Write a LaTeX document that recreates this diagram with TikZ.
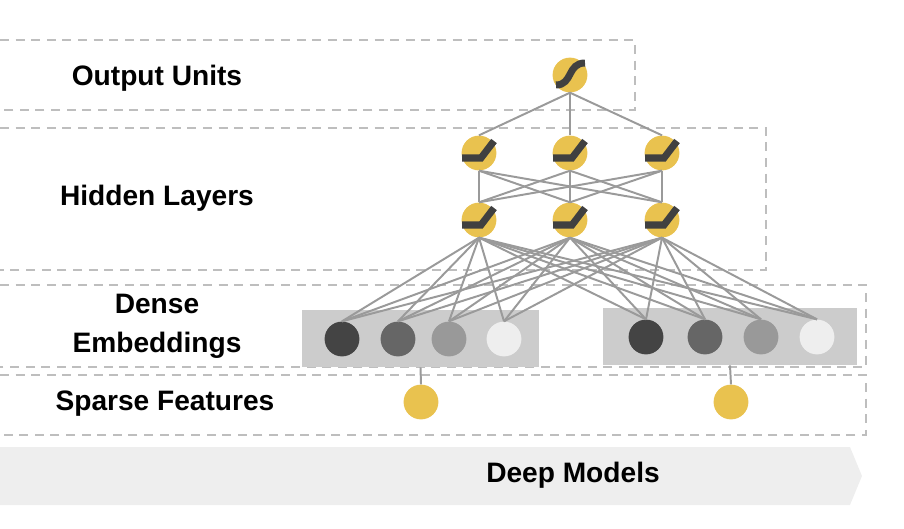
\documentclass[tikz,border=0pt]{standalone}
\usepackage{fontspec}
\setmainfont{Liberation Sans}
\usetikzlibrary{positioning}
\definecolor{unityellow}{HTML}{E9C24F}
\definecolor{linkgray}{HTML}{9A9A9A}
\definecolor{boxgray}{HTML}{BEBEBE}
\definecolor{actgray}{HTML}{404040}
\definecolor{embback}{HTML}{CCCCCC}
\definecolor{bandgray}{HTML}{EEEEEE}
\definecolor{embA}{HTML}{444444}
\definecolor{embB}{HTML}{666666}
\definecolor{embC}{HTML}{999999}
\definecolor{embD}{HTML}{EEEEEE}

\begin{document}
\begin{tikzpicture}[x=0.025cm,y=-0.025cm,
  unit/.style={circle,fill=unityellow,minimum size=0.87cm,inner sep=0},
  emb/.style={circle,minimum size=0.87cm,inner sep=0},
  embrow/.style={fill=embback,inner sep=0},
  link/.style={draw=linkgray,line width=1.4pt},
  layerbox/.style={draw=boxgray,line width=1.6pt,dash pattern=on 6.4pt off 4.7pt},
  act/.style={draw=actgray,line width=5pt},
  lbl/.style={font=\bfseries\fontsize{20}{24}\selectfont,align=center}]

\useasboundingbox (0,0) rectangle (904,528);

% band at the bottom
\fill[bandgray] (0,447) -- (850,447) -- (862,476) -- (850,505) -- (0,505) -- cycle;
\node[lbl] (deep) at (573,475) {Deep Models};

% layer boxes
\draw[layerbox] (0,40) -- (635,40) -- (635,110) -- (0,110);
\draw[layerbox] (0,128) -- (766,128) -- (766,270) -- (0,270);
\draw[layerbox] (0,285) -- (866,285) -- (866,367) -- (0,367);
\draw[layerbox] (0,375) -- (866,375) -- (866,435) -- (0,435);

\node[lbl] (outlbl) at (157,78) {Output Units};
\node[lbl] (hidlbl) at (157,198) {Hidden Layers};
\node[lbl,font=\bfseries\fontsize{20}{27.7}\selectfont] (emblbl) at (157,326) {Dense\\Embeddings};
\node[lbl] (sparselbl) at (165,404) {Sparse Features};

% embedding rows
\node[embrow,minimum width=5.9cm,minimum height=1.43cm] (rowl) at (420.5,338.5) {};
\node[embrow,minimum width=6.35cm,minimum height=1.43cm] (rowr) at (730,336.5) {};

\foreach \i/\x/\c in {1/342/embA,2/398/embB,3/449/embC,4/504/embD}
  \node[emb,fill=\c] (el\i) at (\x,339) {};
\foreach \i/\x/\c in {1/646/embA,2/705/embB,3/761/embC,4/817/embD}
  \node[emb,fill=\c] (er\i) at (\x,337) {};

% sparse features
\node[unit] (sl) at (421,402) {};
\node[unit] (sr) at (731,402) {};
\draw[link] (sl.north) -- (rowl.south);
\draw[link] (sr.north) -- (rowr.south);

% units
\node[unit] (out) at (570,75) {};
\foreach \i/\x in {1/479,2/570,3/662}
  {\node[unit] (ha\i) at (\x,153) {};
   \node[unit] (hb\i) at (\x,220) {};}

\foreach \i in {1,2,3}
  {\draw[link] (out.south) -- (ha\i.north);
   \foreach \j in {1,2,3}
     \draw[link] (ha\i.south) -- (hb\j.north);
   \foreach \j in {1,...,4}
     {\draw[link] (hb\i.south) -- (el\j.north);
      \draw[link] (hb\i.south) -- (er\j.north);}}

% activations
\foreach \n in {ha1,ha2,ha3,hb1,hb2,hb3}
  \draw[act,shift={(\n)}] (-17,5) -- (2,5) -- (15,-12);
\draw[act,shift={(out)}] (-14,10) .. controls (3,10) and (-3,-12) .. (15,-12);

\end{tikzpicture}
\end{document}
